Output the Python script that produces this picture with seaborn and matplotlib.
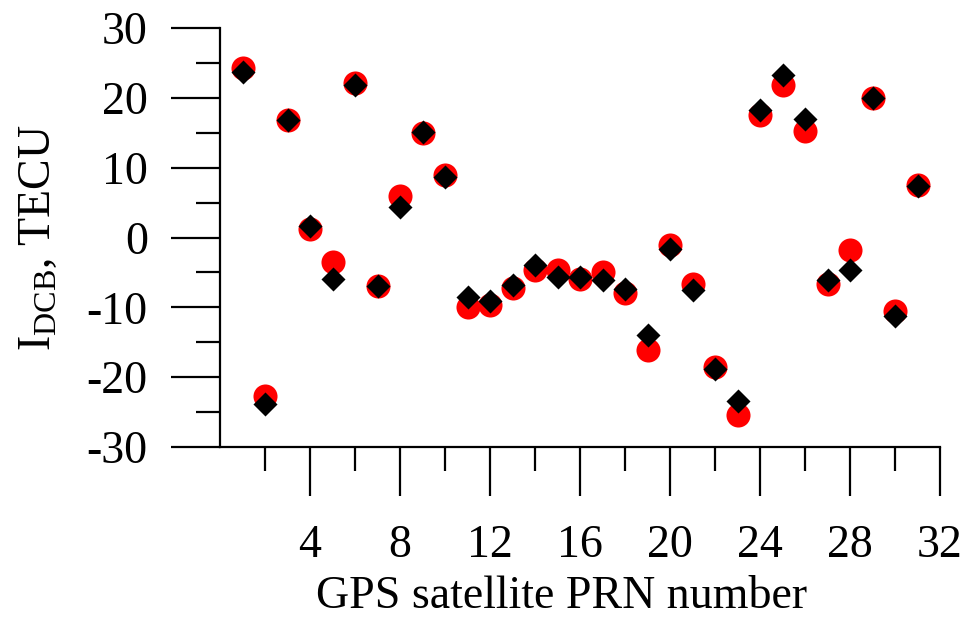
import matplotlib
matplotlib.use("Agg")
import matplotlib.pyplot as plt
import seaborn as sns
import pandas as pd
import numpy as np
from matplotlib.ticker import FixedLocator

prn = list(range(1, 32))
idcb_red = [24.3, -22.7, 16.8, 1.2, -3.5, 22.1, -7.0, 6.0, 14.9, 8.9,
            -10.0, -9.6, -7.3, -4.6, -4.6, -6.0, -4.9, -7.9, -16.1, -1.1,
            -6.7, -18.5, -25.4, 17.6, 21.8, 15.3, -6.7, -1.8, 20.0, -10.5, 7.5]
idcb_black = [23.7, -23.9, 16.8, 1.7, -6.0, 21.9, -7.0, 4.4, 15.1, 8.6,
              -8.5, -9.1, -6.8, -4.0, -5.6, -5.7, -6.1, -7.4, -14.0, -1.7,
              -7.5, -18.9, -23.4, 18.3, 23.3, 17.0, -6.1, -4.7, 20.0, -11.2, 7.4]
x_major = [4, 8, 12, 16, 20, 24, 28, 32]
x_minor = [2, 6, 10, 14, 18, 22, 26, 30]
y_major = [-30, -20, -10, 0, 10, 20, 30]
y_minor = [-25, -15, -5, 5, 15, 25]

df = pd.DataFrame({"prn": prn, "red": idcb_red, "black": idcb_black})

sns.set_theme(style="white")
plt.rcParams["font.family"] = ["Liberation Serif", "DejaVu Serif"]
plt.rcParams["mathtext.fontset"] = "custom"
plt.rcParams["mathtext.rm"] = "Liberation Serif"
plt.rcParams["mathtext.it"] = "Liberation Serif:italic"
plt.rcParams["text.color"] = "black"
plt.rcParams["axes.labelcolor"] = "black"
plt.rcParams["xtick.color"] = "black"
plt.rcParams["ytick.color"] = "black"

fig = plt.figure(figsize=(9.69, 6.2), dpi=100)
ax = fig.add_axes([220/969, 1-447/620, 720/969, 419/620])

sns.scatterplot(data=df, x="prn", y="red", ax=ax, marker="o", color="#ff0000",
                s=300, linewidth=0, zorder=3)
sns.scatterplot(data=df, x="prn", y="black", ax=ax, marker="D", color="black",
                s=150, linewidth=0, zorder=4)

ax.set_xlim(0, 32)
ax.set_ylim(-30, 30)
ax.xaxis.set_major_locator(FixedLocator(x_major))
ax.xaxis.set_minor_locator(FixedLocator(x_minor))
ax.yaxis.set_major_locator(FixedLocator(y_major))
ax.yaxis.set_minor_locator(FixedLocator(y_minor))
ax.set_xticklabels([str(v) for v in x_major])
ax.set_yticklabels([str(v) for v in y_major])

for side in ["top", "right"]:
    ax.spines[side].set_visible(False)
for side in ["left", "bottom"]:
    ax.spines[side].set_linewidth(1.6)
    ax.spines[side].set_color("black")

ax.tick_params(which="major", direction="out", length=35, width=1.6,
               color="black", labelcolor="black", labelsize=33, bottom=True, left=True)
ax.tick_params(axis="x", which="major", pad=21)
ax.tick_params(axis="y", which="major", pad=17)
ax.tick_params(which="minor", direction="out", length=17, width=1.6,
               color="black", bottom=True, left=True)

ax.set_xlabel("GPS satellite PRN number", fontsize=33, labelpad=6, color="black")
ax.xaxis.label.set_x(0.475)
ax.set_ylabel(r"I$_{\mathrm{DCB}}$, TECU", fontsize=33, labelpad=19, color="black")
ax.grid(False)

fig.savefig("out.png", dpi=100, facecolor="white")
